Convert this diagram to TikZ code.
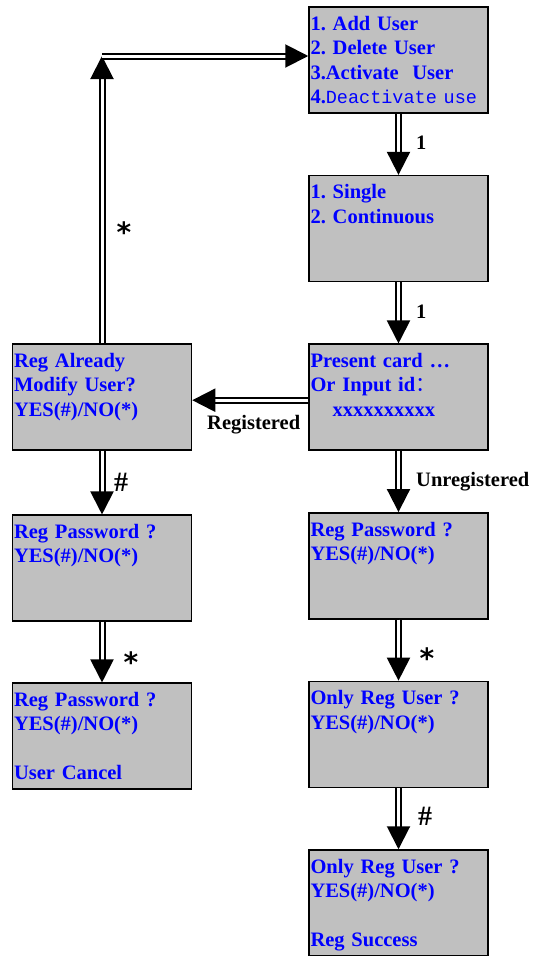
\documentclass[tikz,border=0pt]{standalone}
\usepackage{fontspec}
\setmainfont{Liberation Serif}
\newfontfamily\cjkfont{Noto Sans CJK SC}
\newfontfamily\lcdfont{Liberation Mono}
\newfontfamily\symfont{DejaVu Sans}
\usetikzlibrary{arrows.meta,positioning}
\definecolor{lcdgray}{RGB}{192,192,192}
\definecolor{lcdblue}{RGB}{0,0,255}
\frenchspacing

\begin{document}
\begin{tikzpicture}[x=1pt,y=-1pt,
            screen/.style={draw,line width=1.5pt,fill=lcdgray,text=lcdblue,font=\fontsize{20.5}{24.5}\selectfont\bfseries,text width=176pt,align=left,inner xsep=1.5pt,inner ysep=7.25pt,text height=16pt,text depth=75.5pt},
            col/.style={screen,node distance=168.6pt},
            lab/.style={font=\fontsize{20.5}{24.5}\selectfont\bfseries,inner sep=0pt},
            hashlab/.style={font=\fontsize{28}{28}\selectfont\bfseries,inner sep=0pt},
            star/.style={font=\fontsize{28}{28}\selectfont\bfseries\symfont,inner sep=0pt},
            dbl/.style={draw,double,double distance=3pt,line width=2pt,-{Triangle[length=23pt,width=23pt]}}
          ]
          \useasboundingbox (0,0) rectangle (534,956);
          %screens
          \node[screen] (add) at (398.5,60) {1. Add User\\2. Delete User\\3.Activate~~User\\4.{\lcdfont\mdseries\fontsize{18.5}{24.5}\selectfont Deactivate use}};
          \node[below of = add,col] (single) {1. Single\\2. Continuous};
          \node[below of = single,col] (present) {Present card \ldots\\Or Input id{\cjkfont\mdseries ：}\\\hspace*{22pt}xxxxxxxxxx};
          \node[below of = present,col] (regpw) {Reg Password ?\\YES(\#)/NO(*)};
          \node[below of = regpw,col] (only) {Only Reg User ?\\YES(\#)/NO(*)};
          \node[below of = only,col] (success) {Only Reg User ?\\YES(\#)/NO(*)\\[24.5pt]Reg Success};
          \node[left of = present,screen,node distance=296.5pt] (modify) {Reg Already\\Modify User?\\YES(\#)/NO(*)};
          \node[below of = modify,screen,node distance=171pt] (modifypw) {Reg Password ?\\YES(\#)/NO(*)};
          \node[below of = modifypw,screen,node distance=168pt] (cancel) {Reg Password ?\\YES(\#)/NO(*)\\[24.5pt]User Cancel};
          \coordinate (turn) at (102,56);

          %arrows
          \path
          (add) edge[dbl] (single)
          (single) edge[dbl] (present)
          ([yshift=-3pt]present.west) edge[dbl] ([yshift=-3pt]present.west -| modify.east)
          (present) edge[dbl] (regpw)
          (regpw) edge[dbl] (only)
          (only) edge[dbl] (success)
          (modify) edge[dbl] (modifypw)
          (modifypw) edge[dbl] (cancel)
          (modify) edge[dbl] (turn)
          (turn) edge[dbl] (turn -| add.west)
          ;

          %labels
          \node[lab,anchor=base west] (one) at (416,149) {1};
          \node[lab,anchor=base west] (two) at (416,318) {1};
          \node[lab,anchor=base west] (reg) at (207,429) {Registered};
          \node[lab,anchor=base west] (unreg) at (416,486) {Unregistered};
          \node[hashlab,anchor=base west] (yes) at (114,491) {\#};
          \node[hashlab,anchor=base west] (yes2) at (418,825) {\#};
          \node[star] (back) at (124,232) {*};
          \node[star] (no) at (131,662) {*};
          \node[star] (no2) at (427,658) {*};
      \end{tikzpicture}
\end{document}
